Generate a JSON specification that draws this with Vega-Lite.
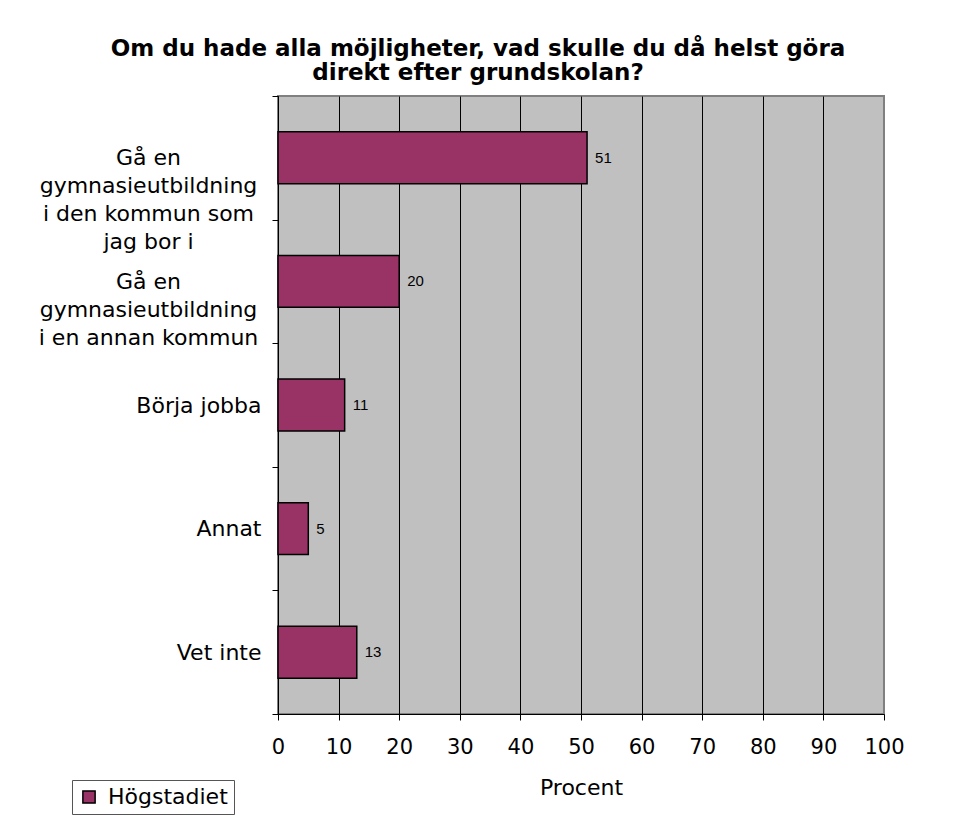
{
  "$schema": "https://vega.github.io/schema/vega-lite/v6.json",
  "width": 606,
  "height": 618,
  "autosize": "none",
  "padding": {"left": 278, "top": 96, "right": 71, "bottom": 114},
  "background": "white",
  "title": {
    "text": ["Om du hade alla möjligheter, vad skulle du då helst göra", "direkt efter grundskolan?"],
    "font": "DejaVu Sans",
    "fontSize": 23,
    "fontWeight": "bold",
    "color": "black",
    "anchor": "middle",
    "frame": "group",
    "dx": -103,
    "offset": 0,
    "lineHeight": 24
  },
  "data": {
    "values": [
      {"kategori": "Gå en|gymnasieutbildning|i den kommun som|jag bor i", "procent": 51, "serie": "Högstadiet"},
      {"kategori": "Gå en|gymnasieutbildning|i en annan kommun", "procent": 20, "serie": "Högstadiet"},
      {"kategori": "Börja jobba", "procent": 11, "serie": "Högstadiet"},
      {"kategori": "Annat", "procent": 5, "serie": "Högstadiet"},
      {"kategori": "Vet inte", "procent": 13, "serie": "Högstadiet"}
    ]
  },
  "encoding": {
    "y": {
      "field": "kategori",
      "type": "nominal",
      "sort": null,
      "scale": {"paddingInner": 0, "paddingOuter": 0},
      "axis": {
        "title": null,
        "domainColor": "black",
        "tickColor": "black",
        "tickBand": "extent",
        "tickSize": 6,
        "labelExpr": "split(datum.label, '|')",
        "labelFont": "DejaVu Sans",
        "labelFontSize": 22,
        "labelColor": "black",
        "labelLineHeight": 28,
        "labelLimit": 400,
        "labelAlign": {"condition": {"test": "indexof(datum.label, '|') >= 0", "value": "center"}, "value": "right"},
        "labelPadding": {"condition": {"test": "indexof(datum.label, '|') >= 0", "value": 124}, "value": 11}
      }
    },
    "x": {
      "field": "procent",
      "type": "quantitative",
      "scale": {"domain": [0, 100], "nice": false},
      "axis": {
        "title": "Procent",
        "titleFont": "DejaVu Sans",
        "titleFontSize": 22,
        "titleFontWeight": "normal",
        "titleColor": "black",
        "titlePadding": 20,
        "values": [0, 10, 20, 30, 40, 50, 60, 70, 80, 90, 100],
        "domainColor": "black",
        "tickColor": "black",
        "tickSize": 6,
        "grid": true,
        "gridColor": {"condition": {"test": "datum.value == 100", "value": "#808080"}, "value": "black"},
        "gridWidth": 1,
        "labelFont": "DejaVu Sans",
        "labelFontSize": 21,
        "labelColor": "black",
        "labelPadding": 16,
        "labelFlush": false
      }
    }
  },
  "layer": [
    {
      "mark": {"type": "bar", "height": {"band": 0.42}, "stroke": "black", "strokeWidth": 1.5},
      "encoding": {
        "color": {
          "field": "serie",
          "type": "nominal",
          "scale": {"range": ["#993366"]},
          "legend": {
            "title": null,
            "orient": "none",
            "legendX": -206,
            "legendY": 684,
            "symbolType": "square",
            "symbolSize": 150,
            "symbolStrokeColor": "black",
            "symbolStrokeWidth": 1.5,
            "labelFont": "DejaVu Sans",
            "labelFontSize": 22,
            "labelColor": "black",
            "labelOffset": 8,
            "strokeColor": "#555555",
            "padding": 6,
            "fillColor": "white"
          }
        }
      }
    },
    {
      "mark": {"type": "text", "align": "left", "dx": 8, "font": "Liberation Sans", "fontSize": 15, "color": "black"},
      "encoding": {"text": {"field": "procent", "type": "quantitative"}}
    }
  ],
  "config": {
    "view": {"fill": "#c0c0c0", "stroke": "#808080", "strokeWidth": 2}
  }
}
